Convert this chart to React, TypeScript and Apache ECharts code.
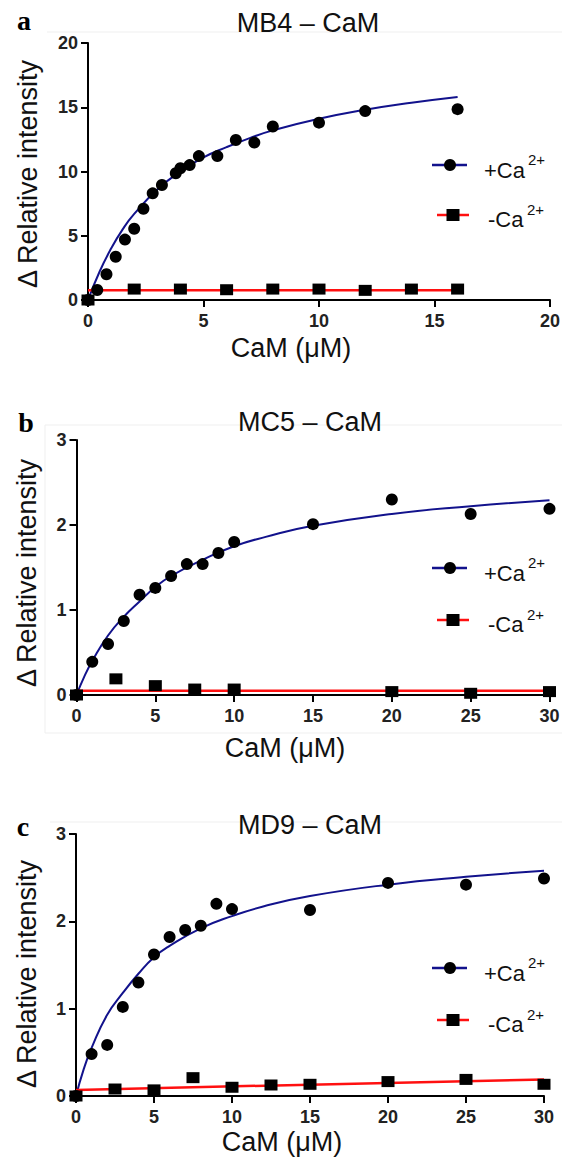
import React, { useEffect, useRef } from "react";
import * as echarts from "echarts";

// ---------- Data ----------
// Panel a: MB4 – CaM
const A_PLUS_X = [0, 0.4, 0.8, 1.2, 1.6, 2.0, 2.4, 2.8, 3.2, 3.8, 4.0, 4.4, 4.8, 5.6, 6.4, 7.2, 8, 10, 12, 16];
const A_PLUS_Y = [0, 0.78, 2.0, 3.37, 4.7, 5.55, 7.1, 8.3, 8.95, 9.86, 10.25, 10.5, 11.2, 11.2, 12.45, 12.25, 13.5, 13.8, 14.7, 14.85];
const A_MINUS_X = [0, 2, 4, 6, 8, 10, 12, 14, 16];
const A_MINUS_Y = [0, 0.85, 0.85, 0.8, 0.85, 0.85, 0.75, 0.85, 0.85];
const A_FIT_X = [0, 0.5, 1, 1.5, 2, 3, 4, 5, 6, 7, 8, 10, 12, 14, 16];
const A_FIT_Y = [0, 2.2, 4.0, 5.5, 6.7, 8.6, 10.0, 11.1, 11.9, 12.6, 13.2, 14.1, 14.8, 15.35, 15.8];
const A_RED_X = [0, 16];
const A_RED_Y = [0.75, 0.75];

// Panel b: MC5 – CaM
const B_PLUS_X = [0, 1, 2, 3, 4, 5, 6, 7, 8, 9, 10, 15, 20, 25, 30];
const B_PLUS_Y = [0, 0.39, 0.6, 0.87, 1.18, 1.26, 1.4, 1.54, 1.54, 1.67, 1.8, 2.01, 2.3, 2.13, 2.19];
const B_MINUS_X = [0, 2.5, 5, 7.5, 10, 20, 25, 30];
const B_MINUS_Y = [0, 0.19, 0.11, 0.07, 0.07, 0.04, 0.02, 0.04];
const B_FIT_X = [0, 0.5, 1, 2, 3, 4, 5, 6, 8, 10, 12, 15, 20, 25, 30];
const B_FIT_Y = [0, 0.22, 0.4, 0.7, 0.92, 1.1, 1.27, 1.4, 1.59, 1.75, 1.86, 1.99, 2.13, 2.22, 2.29];
const B_RED_X = [0, 30];
const B_RED_Y = [0.05, 0.05];

// Panel c: MD9 – CaM
const C_PLUS_X = [0, 1, 2, 3, 4, 5, 6, 7, 8, 9, 10, 15, 20, 25, 30];
const C_PLUS_Y = [0, 0.48, 0.585, 1.02, 1.3, 1.62, 1.82, 1.9, 1.95, 2.2, 2.14, 2.13, 2.44, 2.42, 2.49];
const C_MINUS_X = [0, 2.5, 5, 7.5, 10, 12.5, 15, 20, 25, 30];
const C_MINUS_Y = [0, 0.08, 0.07, 0.21, 0.1, 0.126, 0.134, 0.165, 0.19, 0.134];
const C_FIT_X = [0, 0.5, 1, 2, 3, 4, 5, 6, 8, 10, 12, 15, 20, 25, 30];
const C_FIT_Y = [0, 0.31, 0.55, 0.93, 1.18, 1.4, 1.59, 1.72, 1.92, 2.06, 2.17, 2.29, 2.42, 2.51, 2.58];
const C_RED_X = [0, 30];
const C_RED_Y = [0.07, 0.19];

const TITLES = ["MB4 – CaM", "MC5 – CaM", "MD9 – CaM"];
const LETTERS = ["a", "b", "c"];
const X_NAME = "CaM (μM)";
const Y_NAME = "Δ Relative intensity";
const X_MAX = [20, 30, 30];
const Y_MAX = [20, 3, 3];
const Y_INTERVAL = [5, 1, 1];
const X_INTERVAL = [5, 5, 5];

const zip = (xs: number[], ys: number[]) => xs.map((x, i) => [x, ys[i]]);

const BLUE = "#12128c";
const RED = "#ff1010";
const SANS = "'Liberation Sans', Arial, Helvetica, sans-serif";
const SERIF = "'Liberation Serif', 'Times New Roman', serif";

const PANELS = [
  { plus: zip(A_PLUS_X, A_PLUS_Y), minus: zip(A_MINUS_X, A_MINUS_Y), fit: zip(A_FIT_X, A_FIT_Y), red: zip(A_RED_X, A_RED_Y) },
  { plus: zip(B_PLUS_X, B_PLUS_Y), minus: zip(B_MINUS_X, B_MINUS_Y), fit: zip(B_FIT_X, B_FIT_Y), red: zip(B_RED_X, B_RED_Y) },
  { plus: zip(C_PLUS_X, C_PLUS_Y), minus: zip(C_MINUS_X, C_MINUS_Y), fit: zip(C_FIT_X, C_FIT_Y), red: zip(C_RED_X, C_RED_Y) },
];

// layout
const GRIDS = [
  { left: 88, top: 43, width: 462, height: 257 },
  { left: 76.5, top: 440, width: 473, height: 255 },
  { left: 76, top: 834, width: 468, height: 262 },
];
const Y_NAME_GAP = [47, 36, 35.5];
const Y_NAME_PAD = [5, 11, 18];
const X_NAME_GAP = [34, 39, 32];
const TITLE_POS = [
  [308, 23],
  [310, 422],
  [310, 825],
];
const LETTER_POS = [
  [24, 20],
  [26, 422],
  [23, 826],
];
const LEGEND_Y = [
  [165, 215],
  [568, 620],
  [968, 1020],
];

function legendGroup(yBlue: number, yRed: number) {
  const els: any[] = [];
  els.push({ type: "line", shape: { x1: 432, y1: yBlue, x2: 467, y2: yBlue }, style: { stroke: BLUE, lineWidth: 2.5 } });
  els.push({ type: "circle", shape: { cx: 450, cy: yBlue, r: 6 }, style: { fill: "#000" } });
  els.push({ type: "text", x: 484, y: yBlue + 5, style: { text: "+Ca", fontSize: 22, fontFamily: SANS, fill: "#111", align: "left", verticalAlign: "middle" } });
  els.push({ type: "text", x: 528, y: yBlue - 6, style: { text: "2+", fontSize: 15, fontFamily: SANS, fill: "#111", align: "left", verticalAlign: "middle" } });
  els.push({ type: "line", shape: { x1: 437, y1: yRed, x2: 469, y2: yRed }, style: { stroke: RED, lineWidth: 2.5 } });
  els.push({ type: "rect", shape: { x: 446.5, y: yRed - 6, width: 13, height: 12 }, style: { fill: "#000" } });
  els.push({ type: "text", x: 488, y: yRed + 4, style: { text: "-Ca", fontSize: 22, fontFamily: SANS, fill: "#111", align: "left", verticalAlign: "middle" } });
  els.push({ type: "text", x: 527, y: yRed - 6, style: { text: "2+", fontSize: 15, fontFamily: SANS, fill: "#111", align: "left", verticalAlign: "middle" } });
  return els;
}

export default function App() {
  const ref = useRef<HTMLDivElement>(null);

  useEffect(() => {
    if (!ref.current) return;
    const chart = echarts.init(ref.current, null, { renderer: "svg" });

    const grid = GRIDS.map((g) => ({ ...g, containLabel: false, outerBoundsMode: "none" }));

    const xAxis = GRIDS.map((_, i) => ({
      type: "value",
      gridIndex: i,
      min: 0,
      max: X_MAX[i],
      interval: X_INTERVAL[i],
      name: X_NAME,
      nameLocation: "middle",
      nameGap: X_NAME_GAP[i],
      nameTextStyle: { fontSize: 27, fontFamily: SANS, color: "#111", padding: [0, 56, 0, 0] },
      axisLine: { show: true, onZero: false, lineStyle: { color: "#000", width: 2 } },
      axisTick: { show: true, inside: false, length: 7, lineStyle: { color: "#000", width: 2 } },
      axisLabel: { fontSize: 18, fontWeight: "bold", fontFamily: SANS, color: "#222", margin: 12 },
      splitLine: { show: false },
    }));

    const yAxis = GRIDS.map((_, i) => ({
      type: "value",
      gridIndex: i,
      min: 0,
      max: Y_MAX[i],
      interval: Y_INTERVAL[i],
      name: Y_NAME,
      nameLocation: "middle",
      nameGap: Y_NAME_GAP[i],
      nameTextStyle: { fontSize: 27, fontFamily: SANS, color: "#111", padding: [0, Y_NAME_PAD[i], 0, 0] },
      axisLine: { show: true, onZero: false, lineStyle: { color: "#000", width: 2 } },
      axisTick: { show: true, inside: false, length: 7, lineStyle: { color: "#000", width: 2 } },
      axisLabel: { fontSize: 18, fontWeight: "bold", fontFamily: SANS, color: "#222", margin: 10 },
      splitLine: { show: false },
    }));

    const series: any[] = [];
    PANELS.forEach((p, i) => {
      series.push({
        type: "line",
        name: "+Ca2+ fit",
        xAxisIndex: i,
        yAxisIndex: i,
        data: p.fit,
        smooth: 0.5,
        symbol: "none",
        lineStyle: { color: BLUE, width: 2 },
        z: 2,
      });
      series.push({
        type: "line",
        name: "-Ca2+ fit",
        xAxisIndex: i,
        yAxisIndex: i,
        data: p.red,
        symbol: "none",
        lineStyle: { color: RED, width: 2.5 },
        z: 2,
      });
      series.push({
        type: "scatter",
        name: "+Ca2+",
        xAxisIndex: i,
        yAxisIndex: i,
        data: p.plus,
        symbol: "circle",
        symbolSize: 12,
        itemStyle: { color: "#000", opacity: 1 },
        z: 3,
      });
      series.push({
        type: "scatter",
        name: "-Ca2+",
        xAxisIndex: i,
        yAxisIndex: i,
        data: p.minus,
        symbol: "rect",
        symbolSize: [13, 11],
        itemStyle: { color: "#000", opacity: 1 },
        z: 3,
      });
    });

    const graphic: any[] = [];
    const faint = { stroke: "#efefef", lineWidth: 1 };
    graphic.push({ type: "line", shape: { x1: 47, y1: 32, x2: 562, y2: 32 }, style: faint, silent: true });
    graphic.push({ type: "line", shape: { x1: 45, y1: 425, x2: 562, y2: 425 }, style: faint, silent: true });
    graphic.push({ type: "line", shape: { x1: 45, y1: 733, x2: 562, y2: 733 }, style: faint, silent: true });
    graphic.push({ type: "line", shape: { x1: 45, y1: 425, x2: 45, y2: 733 }, style: faint, silent: true });
    graphic.push({ type: "line", shape: { x1: 50, y1: 822, x2: 562, y2: 822 }, style: faint, silent: true });

    TITLES.forEach((t, i) => {
      graphic.push({
        type: "text",
        x: TITLE_POS[i][0],
        y: TITLE_POS[i][1],
        style: { text: t, fontSize: 27, fontFamily: SANS, fill: "#111", align: "center", verticalAlign: "middle" },
      });
      graphic.push({
        type: "text",
        x: LETTER_POS[i][0],
        y: LETTER_POS[i][1],
        style: { text: LETTERS[i], fontSize: 28, fontWeight: "bold", fontFamily: SERIF, fill: "#000", align: "center", verticalAlign: "middle" },
      });
      graphic.push(...legendGroup(LEGEND_Y[i][0], LEGEND_Y[i][1]));
    });

    chart.setOption({
      animation: false,
      backgroundColor: "#ffffff",
      grid,
      xAxis,
      yAxis,
      series,
      graphic,
    });

    return () => chart.dispose();
  }, []);

  return (
    <div
      ref={ref}
      style={{ position: "absolute", left: 0, top: 0, width: 562, height: 1164, background: "#fff" }}
    />
  );
}
